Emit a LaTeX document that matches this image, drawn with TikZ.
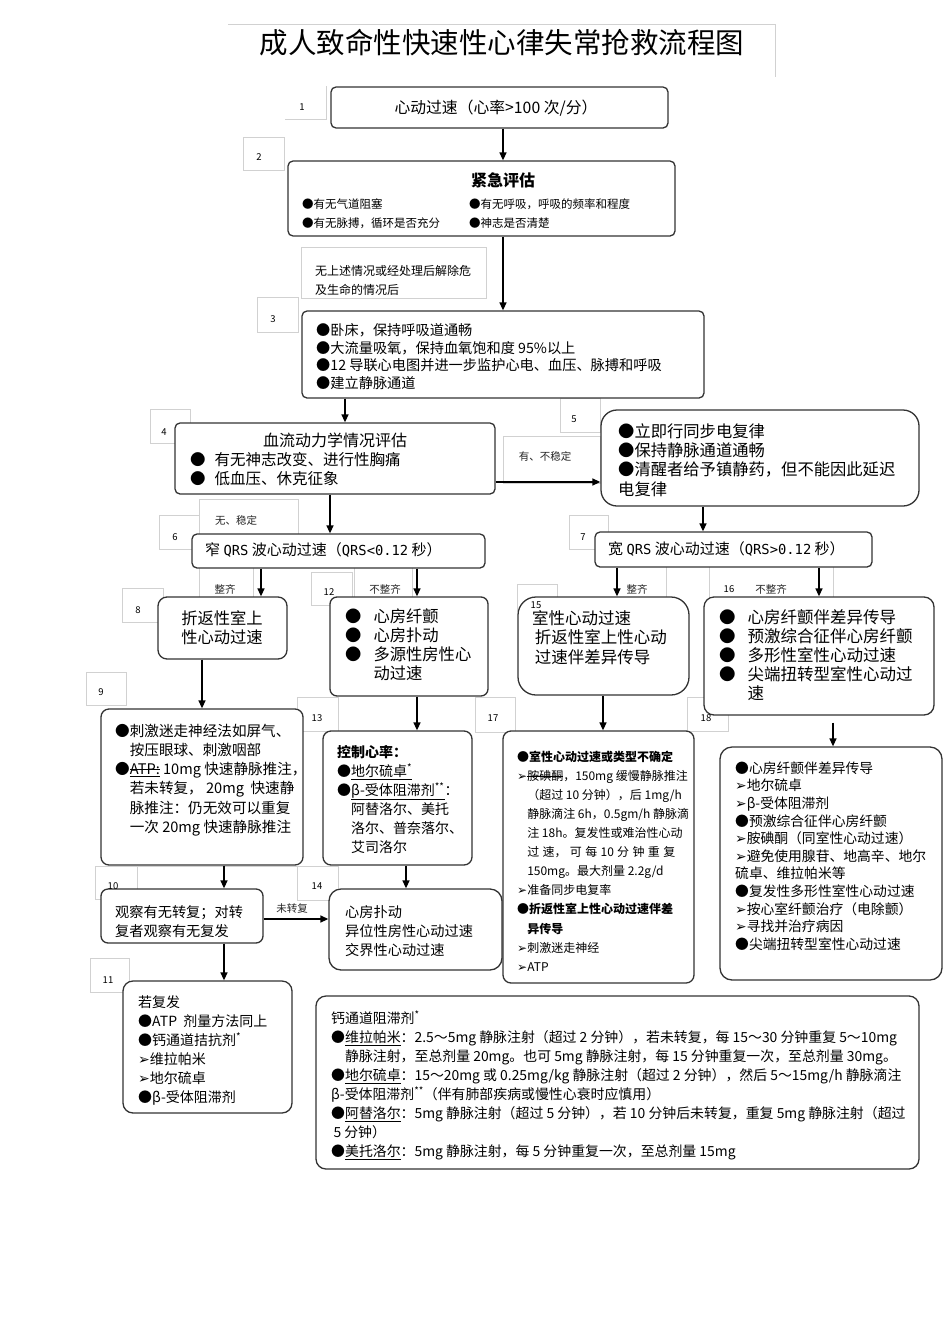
\documentclass[tikz,border=0pt]{standalone}
\usepackage{fontspec}
\setmainfont{Noto Sans CJK SC}
\newfontfamily\dejavu{DejaVu Sans}
\newfontfamily\dvmono{DejaVu Sans Mono}[Scale=0.92]
\usetikzlibrary{arrows.meta,fit}
\newcommand\arrowhd{{\dejavu ➢}}
\newcommand\phb{\phantom{●}}
\newcommand\pha{\phantom{\arrowhd}}
\newcommand\strk[1]{\setbox0\hbox{#1}\rlap{\rule[0.33em]{\wd0}{0.6pt}}\box0}
\newcommand\vconn[4][]{\coordinate (vx) at (#2,0); \draw[myarr,#1] (#3.south -| vx) -- (#4.north -| vx);}
\newcommand\hconn[3]{\coordinate (hy) at (0,#1); \draw[myarr] (#2.east |- hy) -- (#3.west |- hy);}
\begin{document}
\begin{tikzpicture}[x=1pt,y=-1pt,
  bx/.style={draw=black!80, fill=white, line width=1.3pt, rounded corners=#1, inner sep=0pt},
  bx/.default=5pt,
  myarr/.style={draw=black, line width=1.4pt, -{Triangle[length=8pt,width=7pt]}},
  gbox/.style={draw=black!18, line width=0.7pt},
  numlbl/.style={font=\fontsize{9.5}{10}\selectfont, inner sep=0pt},
  small/.style={font=\fontsize{10.5}{12}\selectfont, inner sep=0pt, text=black!85},
  tx/.style 2 args={anchor=west, align=left, inner sep=0pt, font=\fontsize{#1}{#2}\selectfont},
]
\useasboundingbox (0,0) rectangle (950,1344);
\fill[white] (0,0) rectangle (950,1344);

% ---------- gray label boxes ----------
\draw[gbox] (228,24) -- (775,24) -- (775,77);
\draw[gbox] (285,119) -- (326,119) -- (326,86);
\draw[gbox] (243,137) rectangle (284,170);
\draw[gbox] (301,247) rectangle (486,298);
\draw[gbox] (257,297) rectangle (298,332);
\draw[gbox] (150,409) rectangle (190,443);
\draw[gbox] (560,398) rectangle (600,432);
\draw[gbox] (503,436) rectangle (600,483);
\draw[gbox] (199,499) rectangle (298,534);
\draw[gbox] (159,515) rectangle (199,549);
\draw[gbox] (569,515) rectangle (608,549);
\draw[gbox] (199,560) rectangle (253,600);
\draw[gbox] (354,560) rectangle (412,600);
\draw[gbox] (122,588) rectangle (163,622);
\draw[gbox] (311,572) rectangle (352,605);
\draw[gbox] (517,584) rectangle (557,610);
\draw[gbox] (666,567) -- (666,598);
\draw[gbox] (709,567) -- (709,598);
\draw[gbox] (833,567) -- (833,598);
\draw[gbox] (86,672) rectangle (126,705);
\draw[gbox] (297,697) rectangle (338,731);
\draw[gbox] (475,697) rectangle (515,732);
\draw[gbox] (687,697) rectangle (728,731);
\draw[gbox] (95,866) rectangle (137,899);
\draw[gbox] (137,866) -- (297,866);
\draw[gbox] (297,866) rectangle (338,900);
\draw[gbox] (90,958) rectangle (129,992);

% ---------- title ----------
\node[font=\fontsize{28.5}{30}\selectfont, inner sep=0pt] (title) at (502,43) {成人致命性快速性心律失常抢救流程图};

% ---------- boxes ----------
\node[bx, fit={(331,87) (668,128)}] (b1) {};
\node[bx, fit={(288,161) (675,236)}] (b2) {};
\node[bx, fit={(302,311) (704,398)}] (b3) {};
\node[bx, fit={(175,423) (495,494)}] (b4) {};
\node[bx=16pt, fit={(601,410) (919,506)}] (b5) {};
\node[bx, fit={(192,534) (485,568)}] (b6) {};
\node[bx, fit={(595,532) (872,567)}] (b7) {};
\node[bx=9pt, fit={(158,597) (287,659)}] (b8) {};
\node[bx=7pt, fit={(330,597) (488,696)}] (b12) {};
\node[bx=18pt, fit={(518,597) (689,695)}] (b15) {};
\node[bx=10pt, fit={(704,597) (934,715)}] (b16) {};
\node[bx=8pt, fit={(101,709) (303,865)}] (b9) {};
\node[bx=8pt, fit={(323,731) (472,865)}] (b13) {};
\node[bx=8pt, fit={(503,731) (694,983)}] (b17) {};
\node[bx=12pt, fit={(720,747) (942,980)}] (b18) {};
\node[bx=7pt, fit={(101,889) (263,943)}] (b10) {};
\node[bx=12pt, fit={(329,889) (502,970)}] (b14) {};
\node[bx=10pt, fit={(123,981) (292,1113)}] (b11) {};
\node[bx=10pt, fit={(316,996) (919,1169)}] (b19) {};

% ---------- number labels ----------
\node[numlbl] (n1) at (302,107) {1};
\node[numlbl] (n2) at (259,157) {2};
\node[numlbl] (n3) at (273,319) {3};
\node[numlbl] (n4) at (164,432) {4};
\node[numlbl] (n5) at (574,419) {5};
\node[numlbl] (n6) at (175,537) {6};
\node[numlbl] (n7) at (583,537) {7};
\node[numlbl] (n8) at (138,610) {8};
\node[numlbl] (n9) at (101,692) {9};
\node[numlbl] (n10) at (113,886) {10};
\node[numlbl] (n11) at (108,980) {11};
\node[numlbl] (n12) at (329,592) {12};
\node[numlbl] (n13) at (317,718) {13};
\node[numlbl] (n14) at (317,886) {14};
\node[numlbl] (n15) at (536,605) {15};
\node[numlbl] (n16) at (729,589) {16};
\node[numlbl] (n17) at (493,718) {17};
\node[numlbl] (n18) at (706,718) {18};

% ---------- texts ----------
\node[font=\fontsize{15.8}{16}\selectfont, inner sep=0pt] (t1) at (496,108) {心动过速（心率>100 次/分）};

\node[font=\bfseries\fontsize{16}{17}\selectfont, inner sep=0pt] (t2h) at (503,180) {紧急评估};
\node[tx={11.5}{19}] (t2a) at (302,213.5) {●有无气道阻塞\\●有无脉搏，循环是否充分};
\node[tx={11.5}{19}] (t2b) at (469,213.5) {●有无呼吸，呼吸的频率和程度\\●神志是否清楚};

\node[tx={12}{19}] (tnote) at (315,280.5) {无上述情况或经处理后解除危\\及生命的情况后};

\node[tx={14.2}{17.7}] (t3) at (316,356.5) {●卧床，保持呼吸道通畅\\●大流量吸氧，保持血氧饱和度 95\%以上\\●12 导联心电图并进一步监护心电、血压、脉搏和呼吸\\●建立静脉通道};

\node[font=\fontsize{16}{17}\selectfont, inner sep=0pt] (t4h) at (335,440) {血流动力学情况评估};
\node[tx={15.5}{19}] (t4) at (190,469.5) {●\hspace{9pt}有无神志改变、进行性胸痛\\●\hspace{9pt}低血压、休克征象};

\node[small] (l45) at (545,456) {有、不稳定};

\node[tx={16.3}{19.3}] (t5) at (618,460) {●立即行同步电复律\\●保持静脉通道通畅\\●清醒者给予镇静药，但不能因此延迟\\电复律};

\node[small] (l46) at (236,520) {无、稳定};
\node[tx={15}{16}] (t6) at (205,550) {窄 {\dvmono QRS} 波心动过速（{\dvmono QRS<0.12} 秒）};
\node[tx={15}{16}] (t7) at (608,549) {宽 {\dvmono QRS} 波心动过速（{\dvmono QRS>0.12} 秒）};

\node[small] (l68) at (225,589) {整齐};
\node[small] (l612) at (385,589) {不整齐};
\node[small] (l715) at (637,589) {整齐};
\node[small] (l716) at (771,589) {不整齐};

\node[font=\fontsize{16.3}{19.5}\selectfont, align=center, inner sep=0pt] (t8) at (222,627.5) {折返性室上\\性心动过速};
\node[tx={16.3}{19}] (t12) at (345,645) {●\hspace{12pt}心房纤颤\\●\hspace{12pt}心房扑动\\●\hspace{12pt}多源性房性心\\\phb\hspace{12pt}动过速};
\node[tx={16.5}{19.5}] (t15) at (532,637.5) {室性心动过速\\\,折返性室上性心动\\\,过速伴差异传导};
\node[tx={16.5}{19}] (t16) at (719,655) {●\hspace{12pt}心房纤颤伴差异传导\\●\hspace{12pt}预激综合征伴心房纤颤\\●\hspace{12pt}多形性室性心动过速\\●\hspace{12pt}尖端扭转型室性心动过\\\phb\hspace{12pt}速};

\node[tx={14.6}{19.3}] (t9) at (115,780) {●刺激迷走神经法如屏气、\\\phb 按压眼球、刺激咽部\\●\underline{\strk{ATP:}} 10mg 快速静脉推注，\\\phb 若未转复， 20mg \ 快速静\\\phb 脉推注：仍无效可以重复\\\phb 一次 20mg 快速静脉推注};

\node[tx={14}{19}] (t13) at (337,799.5) {{\bfseries 控制心率：}\\●\underline{地尔硫卓\textsuperscript{*}}\\●\underline{β-受体阻滞剂\textsuperscript{**}}：\\\phb 阿替洛尔、美托\\\phb 洛尔、普奈落尔、\\\phb 艾司洛尔};

\node[tx={12}{19.1}] (t17) at (517,861) {{\bfseries ●室性心动过速或类型不确定}\\\arrowhd\strk{胺碘酮}，150mg 缓慢静脉推注\\\pha（超过 10 分钟），后 1mg/h\\\pha 静脉滴注 6h，0.5gm/h 静脉滴\\\pha 注 18h。复发性或难治性心动\\\pha\hbox to 148pt{过\hfill 速，\hfill 可\hfill 每\hfill 10\hfill 分\hfill 钟\hfill 重\hfill 复}\\\pha 150mg。最大剂量 2.2g/d\\\arrowhd 准备同步电复率\\{\bfseries ●折返性室上性心动过速伴差}\\\pha{\bfseries 异传导}\\\arrowhd 刺激迷走神经\\\arrowhd ATP};

\node[tx={13.8}{17.6}] (t18) at (735,856) {●心房纤颤伴差异传导\\\arrowhd 地尔硫卓\\\arrowhd β-受体阻滞剂\\●预激综合征伴心房纤颤\\\arrowhd 胺碘酮（同室性心动过速）\\\arrowhd 避免使用腺苷、地高辛、地尔\\硫卓、维拉帕米等\\●复发性多形性室性心动过速\\\arrowhd 按心室纤颤治疗（电除颤）\\\arrowhd 寻找并治疗病因\\●尖端扭转型室性心动过速};

\node[tx={14.2}{19}] (t10) at (115,921.5) {观察有无转复；对转\\复者观察有无复发};
\node[tx={14.2}{19}] (t14) at (345,931) {心房扑动\\异位性房性心动过速\\交界性心动过速};
\node[small] (l1014) at (292,909) {未转复};

\node[tx={14}{19}] (t11) at (138,1050.5) {若复发\\●ATP \ 剂量方法同上\\●钙通道拮抗剂\textsuperscript{*}\\\arrowhd 维拉帕米\\\arrowhd 地尔硫卓\\●β-受体阻滞剂};

\node[tx={13.9}{19}] (t19) at (331,1085.5) {钙通道阻滞剂\textsuperscript{*}\\●\underline{维拉帕米}：2.5～5mg 静脉注射（超过 2 分钟），若未转复，每 15～30 分钟重复 5～10mg\\\phb 静脉注射，至总剂量 20mg。也可 5mg 静脉注射，每 15 分钟重复一次，至总剂量 30mg。\\●\underline{地尔硫卓}：15～20mg 或 0.25mg/kg 静脉注射（超过 2 分钟），然后 5～15mg/h 静脉滴注\\β-受体阻滞剂\textsuperscript{**}（伴有肺部疾病或慢性心衰时应慎用）\\●\underline{阿替洛尔}：5mg 静脉注射（超过 5 分钟），若 10 分钟后未转复，重复 5mg 静脉注射（超过\\\,5 分钟）\\●\underline{美托洛尔}：5mg 静脉注射，每 5 分钟重复一次，至总剂量 15mg};

% ---------- connectors ----------
\vconn{503}{b1}{b2}
\vconn{503}{b2}{b3}
\vconn{345}{b3}{b4}
\hconn{482}{b4}{b5}
\vconn{330}{b4}{b6}
\vconn{703}{b5}{b7}
\vconn{261}{b6}{b8}
\vconn{417}{b6}{b12}
\vconn{617}{b7}{b15}
\vconn{819}{b7}{b16}
\vconn{202}{b8}{b9}
\vconn{417}{b12}{b13}
\vconn{603}{b15}{b17}
\vconn[shorten <=7pt]{833}{b16}{b18}
\vconn{224}{b9}{b10}
\vconn{406}{b13}{b14}
\hconn{919}{b10}{b14}
\vconn{224}{b10}{b11}
\end{tikzpicture}
\end{document}
